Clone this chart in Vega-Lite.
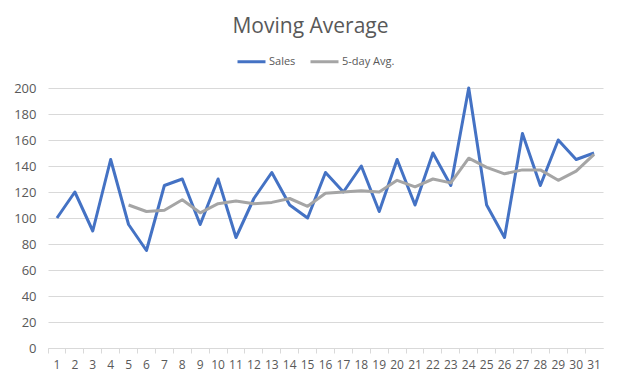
{
  "$schema": "https://vega.github.io/schema/vega-lite/v6.json",
  "autosize": "none",
  "width": 555,
  "height": 260,
  "padding": {"left": 48, "top": 88, "right": 16, "bottom": 34},
  "background": "white",
  "title": {"text": "Moving Average", "fontSize": 21, "font": "Open Sans", "fontWeight": "normal", "color": "#595959", "anchor": "middle", "offset": 9, "dx": -15},
  "config": {"view": {"stroke": null}, "font": "Open Sans"},
  "data": {"values": [
    {"day": 1, "series": "Sales", "value": 100},
    {"day": 2, "series": "Sales", "value": 120},
    {"day": 3, "series": "Sales", "value": 90},
    {"day": 4, "series": "Sales", "value": 145},
    {"day": 5, "series": "Sales", "value": 95},
    {"day": 6, "series": "Sales", "value": 75},
    {"day": 7, "series": "Sales", "value": 125},
    {"day": 8, "series": "Sales", "value": 130},
    {"day": 9, "series": "Sales", "value": 95},
    {"day": 10, "series": "Sales", "value": 130},
    {"day": 11, "series": "Sales", "value": 85},
    {"day": 12, "series": "Sales", "value": 115},
    {"day": 13, "series": "Sales", "value": 135},
    {"day": 14, "series": "Sales", "value": 110},
    {"day": 15, "series": "Sales", "value": 100},
    {"day": 16, "series": "Sales", "value": 135},
    {"day": 17, "series": "Sales", "value": 120},
    {"day": 18, "series": "Sales", "value": 140},
    {"day": 19, "series": "Sales", "value": 105},
    {"day": 20, "series": "Sales", "value": 145},
    {"day": 21, "series": "Sales", "value": 110},
    {"day": 22, "series": "Sales", "value": 150},
    {"day": 23, "series": "Sales", "value": 125},
    {"day": 24, "series": "Sales", "value": 200},
    {"day": 25, "series": "Sales", "value": 110},
    {"day": 26, "series": "Sales", "value": 85},
    {"day": 27, "series": "Sales", "value": 165},
    {"day": 28, "series": "Sales", "value": 125},
    {"day": 29, "series": "Sales", "value": 160},
    {"day": 30, "series": "Sales", "value": 145},
    {"day": 31, "series": "Sales", "value": 150},
    {"day": 5, "series": "5-day Avg.", "value": 110},
    {"day": 6, "series": "5-day Avg.", "value": 105},
    {"day": 7, "series": "5-day Avg.", "value": 106},
    {"day": 8, "series": "5-day Avg.", "value": 114},
    {"day": 9, "series": "5-day Avg.", "value": 104},
    {"day": 10, "series": "5-day Avg.", "value": 111},
    {"day": 11, "series": "5-day Avg.", "value": 113},
    {"day": 12, "series": "5-day Avg.", "value": 111},
    {"day": 13, "series": "5-day Avg.", "value": 112},
    {"day": 14, "series": "5-day Avg.", "value": 115},
    {"day": 15, "series": "5-day Avg.", "value": 109},
    {"day": 16, "series": "5-day Avg.", "value": 119},
    {"day": 17, "series": "5-day Avg.", "value": 120},
    {"day": 18, "series": "5-day Avg.", "value": 121},
    {"day": 19, "series": "5-day Avg.", "value": 120},
    {"day": 20, "series": "5-day Avg.", "value": 129},
    {"day": 21, "series": "5-day Avg.", "value": 124},
    {"day": 22, "series": "5-day Avg.", "value": 130},
    {"day": 23, "series": "5-day Avg.", "value": 127},
    {"day": 24, "series": "5-day Avg.", "value": 146},
    {"day": 25, "series": "5-day Avg.", "value": 139},
    {"day": 26, "series": "5-day Avg.", "value": 134},
    {"day": 27, "series": "5-day Avg.", "value": 137},
    {"day": 28, "series": "5-day Avg.", "value": 137},
    {"day": 29, "series": "5-day Avg.", "value": 129},
    {"day": 30, "series": "5-day Avg.", "value": 136},
    {"day": 31, "series": "5-day Avg.", "value": 149}
  ]},
  "mark": {"type": "line", "strokeWidth": 3, "strokeJoin": "round"},
  "encoding": {
    "x": {
      "field": "day", "type": "ordinal", "sort": "ascending",
      "scale": {"type": "band", "paddingInner": 0, "paddingOuter": 0},
      "axis": {
        "title": null, "labelAngle": 0, "labelFontSize": 12, "labelColor": "#595959",
        "domainColor": "#d9d9d9", "tickColor": "#d9d9d9", "tickSize": 5, "bandPosition": 0,
        "labelPadding": 6, "grid": false
      }
    },
    "y": {
      "field": "value", "type": "quantitative",
      "scale": {"domain": [0, 200]},
      "axis": {
        "title": null, "values": [0, 20, 40, 60, 80, 100, 120, 140, 160, 180, 200],
        "domain": false, "ticks": false, "labelFontSize": 13, "labelColor": "#595959",
        "gridColor": "#d9d9d9", "labelPadding": 12
      }
    },
    "color": {
      "field": "series", "type": "nominal",
      "scale": {"domain": ["Sales", "5-day Avg."], "range": ["#4472C4", "#A5A5A5"]},
      "legend": {
        "title": null, "orient": "none", "direction": "horizontal", "legendX": 188, "legendY": -42,
        "symbolType": "stroke", "symbolStrokeWidth": 3, "symbolSize": 784, "labelFontSize": 11,
        "labelColor": "#595959", "columnPadding": 8, "labelOffset": 2
      }
    }
  }
}
